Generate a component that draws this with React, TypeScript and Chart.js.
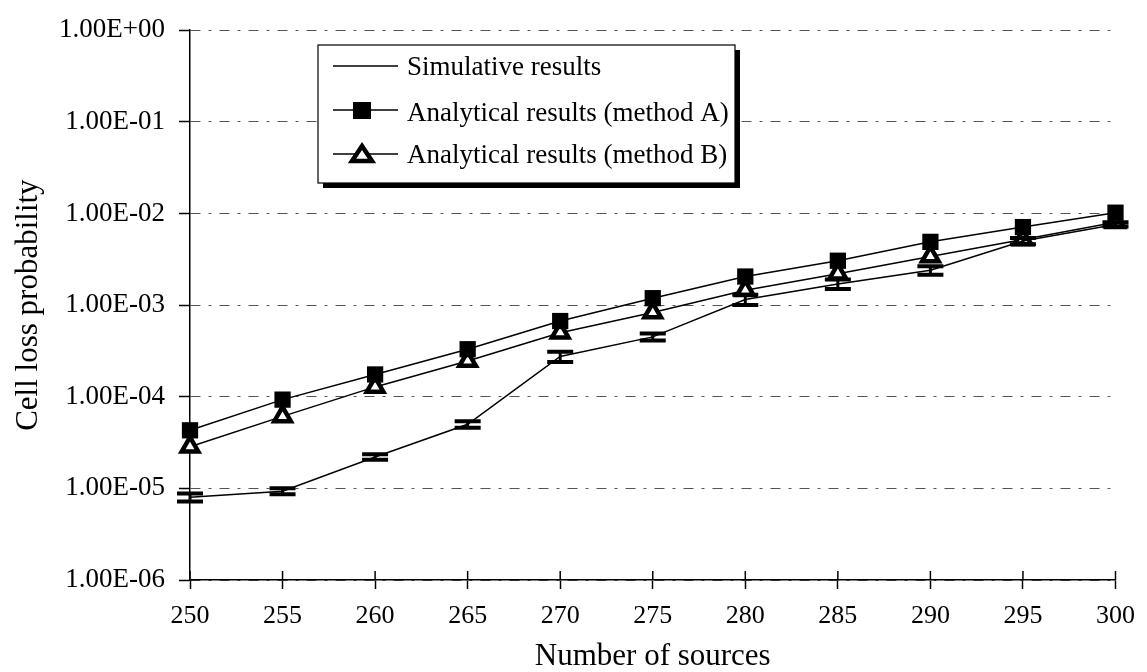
import { useEffect, useRef } from 'react';
import { Chart, registerables } from 'chart.js';

Chart.register(...registerables);

const sources = [250, 255, 260, 265, 270, 275, 280, 285, 290, 295, 300];
const simulative = [8.0e-6, 9.3e-6, 2.2e-5, 5.0e-5, 2.75e-4, 4.5e-4, 1.15e-3, 1.7e-3, 2.4e-3, 5.0e-3, 7.6e-3];
const simLow = [7.2e-6, 8.6e-6, 2.05e-5, 4.6e-5, 2.4e-4, 4.1e-4, 1.0e-3, 1.5e-3, 2.15e-3, 4.6e-3, 7.2e-3];
const simHigh = [8.8e-6, 1.0e-5, 2.35e-5, 5.4e-5, 3.1e-4, 4.9e-4, 1.3e-3, 1.9e-3, 2.65e-3, 5.4e-3, 8.0e-3];
const methodA = [4.3e-5, 9.3e-5, 1.75e-4, 3.3e-4, 6.7e-4, 1.19e-3, 2.05e-3, 3.05e-3, 4.9e-3, 7.1e-3, 1.02e-2];
const methodB = [2.85e-5, 6.1e-5, 1.28e-4, 2.45e-4, 5.0e-4, 8.3e-4, 1.45e-3, 2.2e-3, 3.4e-3, 5.2e-3, 8.0e-3];

const yTickValues = [1e-6, 1e-5, 1e-4, 1e-3, 1e-2, 1e-1, 1];
const yTickLabels = ['1.00E-06', '1.00E-05', '1.00E-04', '1.00E-03', '1.00E-02', '1.00E-01', '1.00E+00'];
const legendLabels = ['Simulative results', 'Analytical results (method A)', 'Analytical results (method B)'];
const xTitle = 'Number of sources';
const yTitle = 'Cell loss probability';

const FONT = "'Liberation Serif', 'DejaVu Serif', serif";

const errorBarPlugin = {
  id: 'errorBars',
  afterDatasetsDraw(chart: any) {
    const { ctx, scales } = chart;
    const x = scales.x;
    const y = scales.y;
    ctx.save();
    ctx.strokeStyle = '#000';
    sources.forEach((s, i) => {
      const px = x.getPixelForValue(s);
      const yl = y.getPixelForValue(simLow[i]);
      const yh = y.getPixelForValue(simHigh[i]);
      ctx.lineWidth = 3;
      ctx.beginPath();
      ctx.moveTo(px, yl);
      ctx.lineTo(px, yh);
      ctx.stroke();
      ctx.lineWidth = 4;
      ctx.beginPath();
      ctx.moveTo(px - 13, yl);
      ctx.lineTo(px + 13, yl);
      ctx.moveTo(px - 13, yh);
      ctx.lineTo(px + 13, yh);
      ctx.stroke();
    });
    ctx.restore();
  },
};

const extrasPlugin = {
  id: 'extras',
  afterDraw(chart: any) {
    const { ctx, scales, chartArea } = chart;
    const x = scales.x;
    ctx.save();
    // upper half of crossing x ticks
    ctx.strokeStyle = '#000';
    ctx.lineWidth = 1.5;
    sources.forEach((s) => {
      const px = x.getPixelForValue(s);
      ctx.beginPath();
      ctx.moveTo(px, chartArea.bottom - 9);
      ctx.lineTo(px, chartArea.bottom);
      ctx.stroke();
    });

    // legend box with shadow
    const bx = 318, by = 45, bw = 417, bh = 138;
    ctx.fillStyle = '#000';
    ctx.fillRect(bx + 5, by + 5, bw, bh);
    ctx.fillStyle = '#fff';
    ctx.fillRect(bx, by, bw, bh);
    ctx.lineWidth = 1.2;
    ctx.strokeStyle = '#000';
    ctx.strokeRect(bx, by, bw, bh);

    const rows = [66, 110, 154];
    const textRows = [68, 114, 156];
    const lx1 = 333, lx2 = 398, mx = 362;
    ctx.lineWidth = 1.5;
    rows.forEach((ry) => {
      ctx.beginPath();
      ctx.moveTo(lx1, ry);
      ctx.lineTo(lx2, ry);
      ctx.stroke();
    });
    // square marker
    ctx.fillStyle = '#000';
    ctx.fillRect(mx - 9, rows[1] - 8, 18, 17);
    // triangle marker
    ctx.beginPath();
    ctx.moveTo(mx, rows[2] - 8);
    ctx.lineTo(mx + 10, rows[2] + 7);
    ctx.lineTo(mx - 10, rows[2] + 7);
    ctx.closePath();
    ctx.fillStyle = '#fff';
    ctx.fill();
    ctx.lineWidth = 4.5;
    ctx.lineJoin = 'miter';
    ctx.stroke();

    ctx.fillStyle = '#000';
    ctx.font = `27px ${FONT}`;
    ctx.textAlign = 'left';
    ctx.textBaseline = 'middle';
    legendLabels.forEach((t, i) => ctx.fillText(t, 407, textRows[i]));
    ctx.restore();
  },
};

export default function App() {
  const ref = useRef<HTMLCanvasElement>(null);

  useEffect(() => {
    if (!ref.current) return;
    Chart.defaults.font.family = FONT;
    const toPts = (arr: number[]) => sources.map((s, i) => ({ x: s, y: arr[i] }));
    const chart = new Chart(ref.current, {
      type: 'line',
      data: {
        datasets: [
          {
            label: legendLabels[0],
            data: toPts(simulative),
            borderColor: '#000',
            borderWidth: 1.5,
            pointRadius: 0,
            clip: false,
          },
          {
            label: legendLabels[1],
            data: toPts(methodA),
            borderColor: '#000',
            borderWidth: 1.5,
            pointStyle: 'rect',
            pointRadius: 11.5,
            pointBackgroundColor: '#000',
            pointBorderColor: '#000',
            pointBorderWidth: 0,
            clip: false,
          },
          {
            label: legendLabels[2],
            data: toPts(methodB),
            borderColor: '#000',
            borderWidth: 1.5,
            pointStyle: 'triangle',
            pointRadius: 9.5,
            pointBackgroundColor: '#fff',
            pointBorderColor: '#000',
            pointBorderWidth: 4.5,
            clip: false,
          },
        ],
      },
      options: {
        animation: false,
        responsive: true,
        maintainAspectRatio: false,
        layout: { padding: { left: 0, top: 24, right: 30, bottom: 0 } },
        plugins: {
          legend: { display: false },
          tooltip: { enabled: false },
        },
        scales: {
          x: {
            type: 'linear',
            min: 250,
            max: 300,
            afterBuildTicks: (scale: any) => {
              scale.ticks = sources.map((v) => ({ value: v }));
            },
            afterFit: (scale: any) => {
              scale.height = 92;
            },
            grid: {
              drawOnChartArea: false,
              drawTicks: true,
              tickLength: 9,
              tickColor: '#000',
              tickWidth: 1.5,
            },
            border: { color: '#000', width: 1.5 },
            ticks: {
              color: '#000',
              padding: 12,
              font: { size: 26, family: FONT },
              maxRotation: 0,
              callback: (v: any) => String(v),
            },
            title: {
              display: true,
              text: xTitle,
              color: '#000',
              font: { size: 31, family: FONT, lineHeight: 1.0 },
              padding: { top: 0, bottom: 0 },
            },
          },
          y: {
            type: 'logarithmic',
            min: 1e-6,
            max: 1,
            afterBuildTicks: (scale: any) => {
              scale.ticks = yTickValues.map((v) => ({ value: v }));
            },
            afterFit: (scale: any) => {
              scale.width = 190;
            },
            grid: {
              color: '#555',
              lineWidth: 1,
              drawTicks: true,
              tickLength: 11,
              tickColor: '#000',
              tickWidth: 1.5,
            },
            border: { color: '#000', width: 1.5, dash: [10, 8, 3, 8] },
            ticks: {
              color: '#000',
              padding: 14,
              font: { size: 27, family: FONT },
              callback: (v: any) => {
                const idx = yTickValues.findIndex((t) => Math.abs(Math.log10(t) - Math.log10(v)) < 1e-6);
                return idx >= 0 ? yTickLabels[idx] : '';
              },
            },
            title: {
              display: true,
              text: yTitle,
              color: '#000',
              font: { size: 31, family: FONT, lineHeight: 1.1 },
              padding: { top: 12, bottom: 0 },
            },
          },
        },
      },
      plugins: [errorBarPlugin, extrasPlugin],
    });
    return () => chart.destroy();
  }, []);

  return (
    <div style={{ position: 'fixed', left: 0, top: 0, width: 1147, height: 672, background: '#fff' }}>
      <canvas ref={ref} />
    </div>
  );
}
